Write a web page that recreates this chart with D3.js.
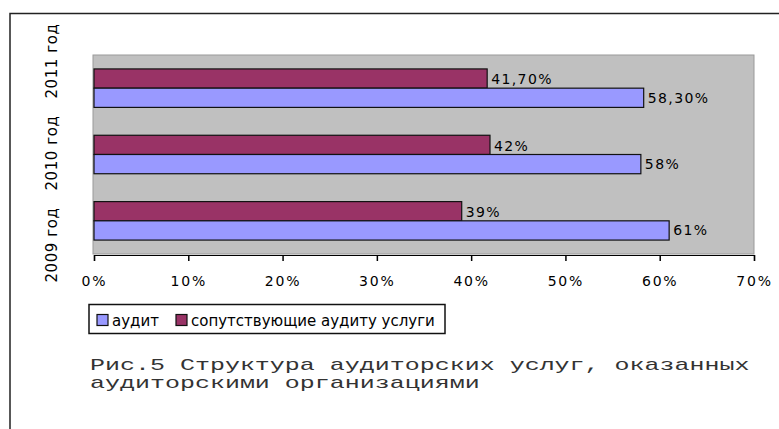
<!DOCTYPE html>
<html>
<head>
<meta charset="utf-8">
<script src="https://cdn.jsdelivr.net/npm/d3@7"></script>
<style>
  html, body { margin: 0; padding: 0; background: #fff; }
  svg { display: block; }
</style>
</head>
<body>
<script>
// ---- data ----
const categories = ["2009 год", "2010 год", "2011 год"];
const seriesNames = ["аудит", "сопутствующие аудиту услуги"];
const auditValues = [61, 58, 58.3];
const relatedValues = [39, 42, 41.7];
const auditLabels = ["61%", "58%", "58,30%"];
const relatedLabels = ["39%", "42%", "41,70%"];
const tickValues = [0, 10, 20, 30, 40, 50, 60, 70];
const tickLabels = ["0%", "10%", "20%", "30%", "40%", "50%", "60%", "70%"];
const captionLines = ["Рис.5 Структура аудиторских услуг, оказанных", "аудиторскими организациями"];
const colors = ["#9999FF", "#993366"];

const W = 779, H = 429;
const svg = d3.select("body").append("svg").attr("width", W).attr("height", H);

// outer frame (cut off on the right and bottom)
svg.append("path")
  .attr("d", `M10,${H} L10,13.5 L${W},13.5`)
  .attr("fill", "none").attr("stroke", "#222").attr("stroke-width", 1.5);

const plot = { left: 94, right: 754, top: 55, bottom: 254 };

const x = d3.scaleLinear().domain([0, 70]).range([plot.left, plot.right]);
const y = d3.scaleBand().domain(categories.slice().reverse()).range([plot.top, plot.bottom]);
const barH = y.bandwidth() * 0.29;

// plot area
svg.append("rect")
  .attr("x", plot.left - 1).attr("y", plot.top)
  .attr("width", plot.right - plot.left + 1).attr("height", plot.bottom - plot.top)
  .attr("fill", "#C0C0C0").attr("stroke", "#9a9a9a").attr("stroke-width", 1);

const rows = categories.map((c, i) => ({
  cat: c, audit: auditValues[i], related: relatedValues[i],
  auditLabel: auditLabels[i], relatedLabel: relatedLabels[i]
}));

const g = svg.append("g");
// related (maroon) on top
g.selectAll("rect.rel").data(rows).join("rect")
  .attr("class", "rel")
  .attr("x", x(0)).attr("y", d => y(d.cat) + y.bandwidth() / 2 - barH)
  .attr("width", d => x(d.related) - x(0)).attr("height", barH)
  .attr("fill", colors[1]).attr("stroke", "#111").attr("stroke-width", 1.2);
// audit (blue) below
g.selectAll("rect.aud").data(rows).join("rect")
  .attr("class", "aud")
  .attr("x", x(0)).attr("y", d => y(d.cat) + y.bandwidth() / 2)
  .attr("width", d => x(d.audit) - x(0)).attr("height", barH)
  .attr("fill", colors[0]).attr("stroke", "#111").attr("stroke-width", 1.2);

const labelFont = "'DejaVu Sans', sans-serif";
g.selectAll("text.rel").data(rows).join("text")
  .attr("x", d => x(d.related) + 4)
  .attr("y", d => y(d.cat) + y.bandwidth() / 2 - barH / 2 + 1)
  .attr("dy", "0.35em")
  .attr("font-family", labelFont).attr("font-size", 14).attr("letter-spacing", 1.4)
  .attr("fill", "#000").text(d => d.relatedLabel);
g.selectAll("text.aud").data(rows).join("text")
  .attr("x", d => x(d.audit) + 4)
  .attr("y", d => y(d.cat) + y.bandwidth() / 2 + barH / 2)
  .attr("dy", "0.35em")
  .attr("font-family", labelFont).attr("font-size", 14).attr("letter-spacing", 1.4)
  .attr("fill", "#000").text(d => d.auditLabel);

// x axis
const xAxis = d3.axisBottom(x).tickValues(tickValues)
  .tickFormat((d, i) => tickLabels[i]).tickSize(6).tickPadding(15);
const ax = svg.append("g").attr("transform", `translate(0,${plot.bottom + 1})`).call(xAxis);
ax.select(".domain").attr("stroke", "#000").attr("stroke-width", 1.2);
ax.selectAll(".tick line").attr("stroke", "#000").attr("stroke-width", 1.5);
ax.selectAll(".tick text")
  .attr("font-family", labelFont).attr("font-size", 14).attr("letter-spacing", 1.8)
  .attr("fill", "#000");

// y category labels (rotated)
const yl = d3.scalePoint().domain(categories.slice().reverse())
  .range([plot.top + 6, plot.bottom - 9]);
svg.append("g").selectAll("text").data(categories).join("text")
  .attr("transform", d => `translate(57,${yl(d)}) rotate(-90)`)
  .attr("text-anchor", "middle")
  .attr("font-family", labelFont).attr("font-size", 15).attr("letter-spacing", 0.6)
  .attr("fill", "#000").text(d => d);

// legend
const lg = svg.append("g");
lg.append("rect").attr("x", 89).attr("y", 304.5).attr("width", 356).attr("height", 29)
  .attr("fill", "#fff").attr("stroke", "#111").attr("stroke-width", 1.5);
const legendX = [97, 176];
seriesNames.forEach((name, i) => {
  lg.append("rect").attr("x", legendX[i]).attr("y", 314.5).attr("width", 11).attr("height", 11)
    .attr("fill", colors[i]).attr("stroke", "#111").attr("stroke-width", 1.2);
  lg.append("text").attr("x", legendX[i] + 15).attr("y", 325.5)
    .attr("font-family", labelFont).attr("font-size", 15)
    .attr("fill", "#000").text(name);
});

// caption (monospace)
const cap = svg.append("g");
captionLines.forEach((line, i) => {
  cap.append("text")
    .attr("transform", `translate(90,${370 + i * 18}) scale(1.47,1)`)
    .attr("font-family", "'Liberation Mono', 'Courier New', monospace")
    .attr("font-size", 17).attr("fill", "#333")
    .text(line);
});
</script>
</body>
</html>
